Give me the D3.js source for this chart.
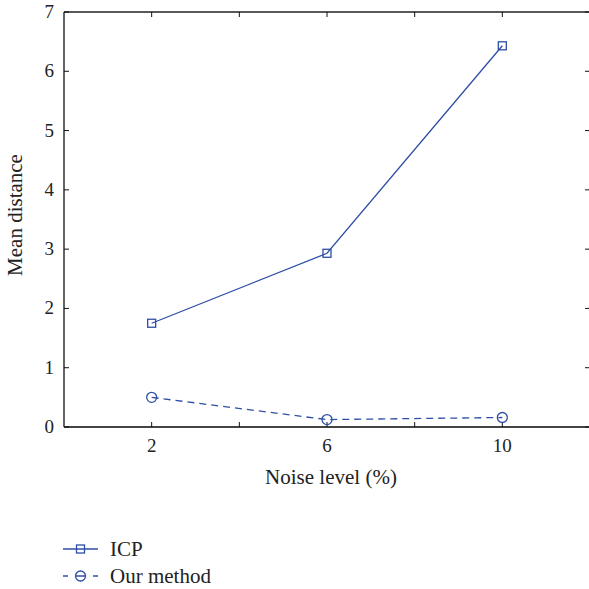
<!DOCTYPE html>
<html><head><meta charset="utf-8">
<script src="https://cdn.jsdelivr.net/npm/d3@7"></script>
<style>body{margin:0;background:#fff}svg{display:block}text{font-family:"Liberation Serif","DejaVu Serif",serif;fill:#222}</style>
</head><body>
<svg id="c" width="589" height="589"></svg>
<script>
const noiseLevels = [2, 6, 10];
const icp = [1.75, 2.93, 6.43];
const ourMethod = [0.50, 0.125, 0.16];
const xTicks = [2, 6, 10];
const xMinorTicks = [4, 8];
const yTicks = [0, 1, 2, 3, 4, 5, 6, 7];
const seriesNames = ["ICP", "Our method"];

const svg = d3.select("#c");
const L = 64, R = 590, T = 12, B = 427;
const x = d3.scaleLinear().domain([0, 12]).range([L, R]);
const y = d3.scaleLinear().domain([0, 7]).range([B, T]);
const blue = "#2f4fa6";
const fsTick = 19, fsLab = 21;

svg.append("line").attr("x1", L).attr("x2", R).attr("y1", T).attr("y2", T).attr("stroke", "#222").attr("stroke-width", 1.3);
svg.append("line").attr("x1", L).attr("x2", L).attr("y1", T).attr("y2", B).attr("stroke", "#111").attr("stroke-width", 1.3);
svg.append("line").attr("x1", L).attr("x2", R).attr("y1", B).attr("y2", B).attr("stroke", "#444").attr("stroke-width", 2);

const tk = 5;
[...xTicks, ...xMinorTicks].forEach(v => {
  svg.append("line").attr("x1", x(v)).attr("x2", x(v)).attr("y1", B).attr("y2", B - tk).attr("stroke", "#111");
  svg.append("line").attr("x1", x(v)).attr("x2", x(v)).attr("y1", T).attr("y2", T + tk).attr("stroke", "#111");
});
xTicks.forEach(v => {
  svg.append("text").attr("x", x(v)).attr("y", B + 25).attr("text-anchor", "middle").attr("font-size", fsTick).text(v);
});
yTicks.forEach(v => {
  svg.append("line").attr("x1", L).attr("x2", L + tk).attr("y1", y(v)).attr("y2", y(v)).attr("stroke", "#111");
  svg.append("line").attr("x1", R).attr("x2", R - tk).attr("y1", y(v)).attr("y2", y(v)).attr("stroke", "#111");
  svg.append("text").attr("x", L - 10).attr("y", y(v) + 6).attr("text-anchor", "end").attr("font-size", fsTick).text(v);
});

svg.append("text").attr("x", 331).attr("y", 484).attr("text-anchor", "middle").attr("font-size", fsLab).text("Noise level (%)");
svg.append("text").attr("transform", `translate(22,215) rotate(-90)`).attr("text-anchor", "middle").attr("font-size", fsLab).text("Mean distance");

const line = d3.line().x(d => x(d[0])).y(d => y(d[1]));
const d1 = noiseLevels.map((n, i) => [n, icp[i]]);
const d2 = noiseLevels.map((n, i) => [n, ourMethod[i]]);

svg.append("path").attr("d", line(d1)).attr("fill", "none").attr("stroke", blue).attr("stroke-width", 1.3);
svg.append("path").attr("d", line(d2)).attr("fill", "none").attr("stroke", blue).attr("stroke-width", 1.3).attr("stroke-dasharray", "7,5");

const sq = 8, cr = 5;
svg.selectAll(".sq").data(d1).enter().append("rect")
  .attr("x", d => x(d[0]) - sq / 2).attr("y", d => y(d[1]) - sq / 2).attr("width", sq).attr("height", sq)
  .attr("fill", "none").attr("stroke", blue).attr("stroke-width", 1.3);
svg.selectAll(".ci").data(d2).enter().append("circle")
  .attr("cx", d => x(d[0])).attr("cy", d => y(d[1])).attr("r", cr)
  .attr("fill", "none").attr("stroke", blue).attr("stroke-width", 1.3);

// legend
const lx0 = 63, lx1 = 98, lc = (lx0 + lx1) / 2;
const ly = [549, 576];
svg.append("line").attr("x1", lx0).attr("x2", lx1).attr("y1", ly[0]).attr("y2", ly[0]).attr("stroke", blue).attr("stroke-width", 1.3);
svg.append("rect").attr("x", lc - 4).attr("y", ly[0] - 4).attr("width", 8).attr("height", 8).attr("fill", "none").attr("stroke", blue).attr("stroke-width", 1.3);
svg.append("line").attr("x1", lx0).attr("x2", lx1).attr("y1", ly[1]).attr("y2", ly[1]).attr("stroke", blue).attr("stroke-width", 1.3).attr("stroke-dasharray", "5,7.5,10,7.5,5");
svg.append("circle").attr("cx", lc).attr("cy", ly[1]).attr("r", 5).attr("fill", "none").attr("stroke", blue).attr("stroke-width", 1.3);
seriesNames.forEach((s, i) => {
  svg.append("text").attr("x", 110).attr("y", ly[i] + 7).attr("font-size", fsLab).text(s);
});
</script>
</body></html>
